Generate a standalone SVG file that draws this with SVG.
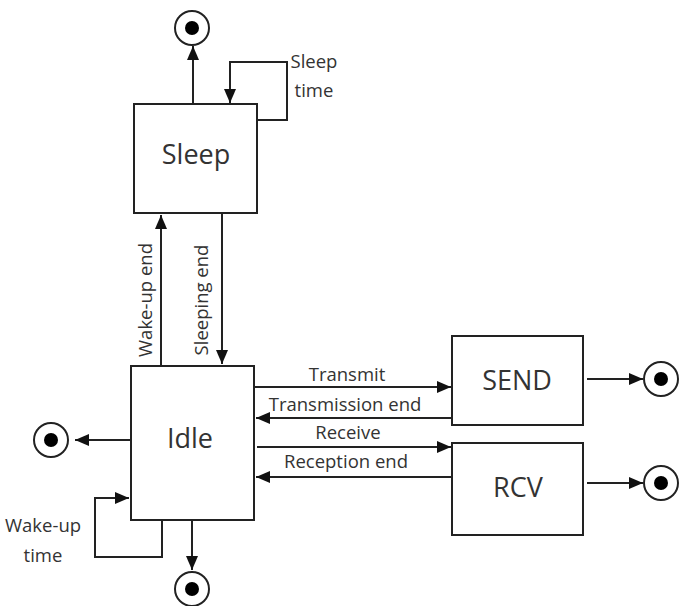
<svg xmlns="http://www.w3.org/2000/svg" width="679" height="606" viewBox="0 0 679 606">
<defs>
<marker id="ah" markerWidth="14" markerHeight="12" refX="14" refY="6" orient="auto" markerUnits="userSpaceOnUse">
<path d="M0,0 L14,6 L0,12 Z" fill="#111"/>
</marker>
<style>
.box{fill:#fff;stroke:#222;stroke-width:2}
.ln{fill:none;stroke:#222;stroke-width:2;marker-end:url(#ah)}
.big{font-family:"Open Sans","DejaVu Sans",sans-serif;font-size:27px;fill:#333;text-anchor:middle}
.lbl{font-family:"Open Sans","DejaVu Sans",sans-serif;font-size:18.5px;fill:#333;text-anchor:middle}
.endo{fill:#fff;stroke:#222;stroke-width:2}
.endi{fill:#000}
</style>
</defs>
<rect width="679" height="606" fill="#fff"/>
<g id="connectors">
<path class="ln" d="M193,104 V46"/>
<path class="ln" d="M257,120 H287 V62 H230 V103"/>
<path class="ln" d="M161,366 V215"/>
<path class="ln" d="M222,213 V364"/>
<path class="ln" d="M254,387 H451"/>
<path class="ln" d="M452,418 H256"/>
<path class="ln" d="M257,447 H451"/>
<path class="ln" d="M452,477 H256"/>
<path class="ln" d="M587,379 H643"/>
<path class="ln" d="M587,483 H643"/>
<path class="ln" d="M131,440 H75"/>
<path class="ln" d="M162,520 V557 H95 V498 H129"/>
<path class="ln" d="M192,520 V570"/>
<text class="lbl" x="314" y="68">Sleep</text>
<text class="lbl" x="314" y="97">time</text>
<text class="lbl" transform="translate(152,300) rotate(-90)">Wake-up end</text>
<text class="lbl" transform="translate(208,300) rotate(-90)">Sleeping end</text>
<text class="lbl" x="347" y="381">Transmit</text>
<text class="lbl" x="345" y="411">Transmission end</text>
<text class="lbl" x="348" y="439">Receive</text>
<text class="lbl" x="346" y="468">Reception end</text>
<text class="lbl" x="43" y="532">Wake-up</text>
<text class="lbl" x="43" y="562">time</text>
</g>
<g id="sleep"><rect class="box" x="134" y="104" width="123" height="109"/><text class="big" x="196" y="164">Sleep</text></g>
<g id="idle"><rect class="box" x="131" y="366" width="123" height="154"/><text class="big" x="190" y="448">Idle</text></g>
<g id="send"><rect class="box" x="452" y="336" width="131" height="89"/><text class="big" x="517" y="390">SEND</text></g>
<g id="rcv"><rect class="box" x="452" y="443" width="131" height="92"/><text class="big" x="518" y="497">RCV</text></g>
<g id="end-top"><circle class="endo" cx="192" cy="28" r="17"/><circle class="endi" cx="192" cy="28" r="7"/></g>
<g id="end-send"><circle class="endo" cx="661" cy="379" r="17"/><circle class="endi" cx="661" cy="379" r="7"/></g>
<g id="end-rcv"><circle class="endo" cx="661" cy="483" r="17"/><circle class="endi" cx="661" cy="483" r="7"/></g>
<g id="end-left"><circle class="endo" cx="51" cy="440" r="17"/><circle class="endi" cx="51" cy="440" r="7"/></g>
<g id="end-bottom"><circle class="endo" cx="192" cy="589" r="17"/><circle class="endi" cx="192" cy="589" r="7"/></g>
</svg>
